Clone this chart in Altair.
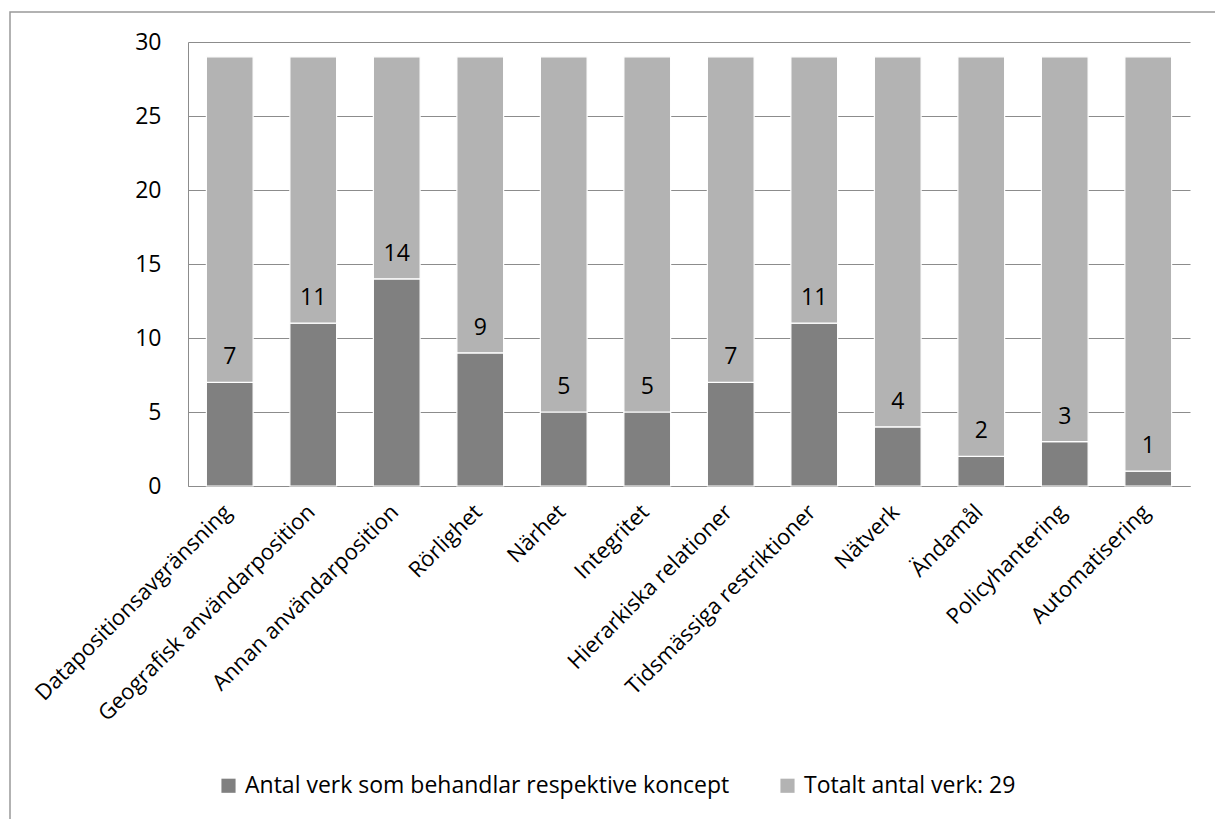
import altair as alt
import pandas as pd

categories = [
    "Datapositionsavgränsning", "Geografisk användarposition", "Annan användarposition",
    "Rörlighet", "Närhet", "Integritet", "Hierarkiska relationer",
    "Tidsmässiga restriktioner", "Nätverk", "Ändamål", "Policyhantering", "Automatisering",
]
counts = [7, 11, 14, 9, 5, 5, 7, 11, 4, 2, 3, 1]
total = 29
series_names = ["Antal verk som behandlar respektive koncept", "Totalt antal verk: 29"]
series_colors = ["#808080", "#b3b3b3"]

rows = []
for c, v in zip(categories, counts):
    rows.append({"kategori": c, "serie": series_names[0], "varde": v, "ordning": 0})
    rows.append({"kategori": c, "serie": series_names[1], "varde": total - v, "ordning": 1})
df = pd.DataFrame(rows)
lab = pd.DataFrame({"kategori": categories, "antal": counts})

FONT = "Open Sans"
FS = 23

x_enc = alt.X("kategori:N", sort=categories, title=None,
              scale=alt.Scale(paddingInner=0.44, paddingOuter=0.22),
              axis=alt.Axis(labelAngle=-45, labelFontSize=FS - 1, labelFont=FONT, labelColor="black",
                            labelAlign="right", labelBaseline="middle", labelPadding=22,
                            labelOffset=-2,
                            ticks=False, domainColor="#8c8c8c", labelLimit=400))

bars = alt.Chart(df).mark_bar(stroke="white", strokeWidth=1.2).encode(
    x=x_enc,
    y=alt.Y("varde:Q", stack="zero", title=None,
            scale=alt.Scale(domain=[0, 30], nice=False),
            axis=alt.Axis(values=[0, 5, 10, 15, 20, 25, 30], labelFontSize=FS, labelFont=FONT,
                          labelColor="black", ticks=False, labelPadding=27,
                          gridColor="#8c8c8c", domainColor="#8c8c8c")),
    color=alt.Color("serie:N", scale=alt.Scale(domain=series_names, range=series_colors),
                    legend=alt.Legend(title=None, orient="none", direction="horizontal",
                                      legendX=29, legendY=732, symbolType="square",
                                      symbolSize=200, symbolStrokeWidth=0, labelFontSize=FS,
                                      labelFont=FONT, labelColor="black", columnPadding=46,
                                      labelOffset=5, labelLimit=700)),
    order=alt.Order("ordning:Q"),
)

text = alt.Chart(lab).mark_text(baseline="bottom", dy=-13, fontSize=FS, font=FONT, color="black").encode(
    x=alt.X("kategori:N", sort=categories),
    y=alt.Y("antal:Q"),
    text=alt.Text("antal:Q"),
)

border = alt.Chart(pd.DataFrame({"a": [0]})).mark_rect(fill=None, stroke="#999999", strokeWidth=1.5).encode(
    x=alt.value(-178), x2=alt.value(1040), y=alt.value(-30), y2=alt.value(790)
)

chart = alt.layer(bars, text, border).properties(
    width=1002, height=444,
    autosize=alt.AutoSizeParams(type="none"),
    padding={"left": 188, "top": 42, "right": 25, "bottom": 333},
    background="white",
).configure_view(stroke=None)

chart.save("out.html", embed_options={"renderer": "svg", "actions": False})
